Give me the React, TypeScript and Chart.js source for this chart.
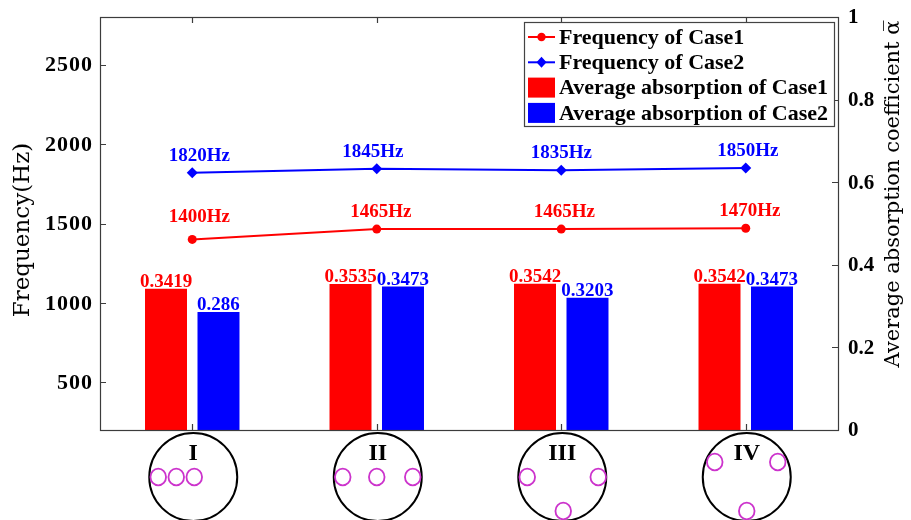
import React, { useEffect, useRef } from 'react';
import { Chart, registerables } from 'chart.js';

Chart.register(...registerables);

const categories = ['I', 'II', 'III', 'IV'];
const freqCase1 = [1400, 1465, 1465, 1470];
const freqCase2 = [1820, 1845, 1835, 1850];
const absorbCase1 = [0.3419, 0.3535, 0.3542, 0.3542];
const absorbCase2 = [0.286, 0.3473, 0.3203, 0.3473];
const leftTicks = [500, 1000, 1500, 2000, 2500];
const rightTicks = [0, 0.2, 0.4, 0.6, 0.8, 1];
const rightTickLabels = ['0', '0.2', '0.4', '0.6', '0.8', '1'];
const legendLabels = [
  'Frequency of Case1',
  'Frequency of Case2',
  'Average absorption of Case1',
  'Average absorption of Case2',
];
const leftTitle = 'Frequency(Hz)';
const rightTitle = 'Average absorption coefficient \u03B1\u0305';

// decoration: hole layouts of each configuration (offsets from the circle centre, px)
const holeLayouts: number[][][] = [
  [[-35, 0], [-17, 0], [1, 0]],
  [[-35, 0], [-1, 0], [35, 0]],
  [[-35, 0], [36, 0], [1, 34]],
  [[-32, -15], [31, -15], [0, 34]],
];
// small manual label nudges (style)
const lineLabelDx1 = [7, 4, 3, 4];
const lineLabelGap1 = [17, 12, 12, 12];
const lineLabelDx2 = [7, -4, 0, 2];

const RED = '#ff0000';
const BLUE = '#0000ff';
const SERIF = '"Liberation Serif", "Times New Roman", serif';

const decorPlugin = {
  id: 'decor',
  afterDatasetsDraw(chart: any) {
    const { ctx, chartArea: ca, scales } = chart;
    const xs = scales.x;
    const yL = scales.yL;
    const yR = scales.yR;
    ctx.save();

    // value labels for lines
    ctx.font = `bold 19px ${SERIF}`;
    ctx.textAlign = 'center';
    ctx.textBaseline = 'alphabetic';
    const m0 = chart.getDatasetMeta(0);
    const m1 = chart.getDatasetMeta(1);
    m0.data.forEach((el: any, i: number) => {
      ctx.fillStyle = RED;
      ctx.fillText(`${freqCase1[i]}Hz`, el.x + lineLabelDx1[i], el.y - lineLabelGap1[i]);
    });
    m1.data.forEach((el: any, i: number) => {
      ctx.fillStyle = BLUE;
      ctx.fillText(`${freqCase2[i]}Hz`, el.x + lineLabelDx2[i], el.y - 12);
    });
    // value labels for bars
    const m2 = chart.getDatasetMeta(2);
    const m3 = chart.getDatasetMeta(3);
    m2.data.forEach((el: any, i: number) => {
      ctx.fillStyle = RED;
      ctx.fillText(String(absorbCase1[i]), el.x, el.y - 2);
    });
    m3.data.forEach((el: any, i: number) => {
      ctx.fillStyle = BLUE;
      ctx.fillText(String(absorbCase2[i]), el.x, el.y - 2);
    });

    // frame
    ctx.strokeStyle = '#3c3c3c';
    ctx.lineWidth = 1.2;
    ctx.strokeRect(ca.left + 0.5, ca.top + 0.5, ca.right - ca.left, ca.bottom - ca.top);

    // ticks
    ctx.beginPath();
    leftTicks.forEach((v) => {
      const y = Math.round(yL.getPixelForValue(v)) + 0.5;
      ctx.moveTo(ca.left, y);
      ctx.lineTo(ca.left + 6, y);
    });
    rightTicks.forEach((v) => {
      const y = Math.round(yR.getPixelForValue(v)) + 0.5;
      ctx.moveTo(ca.right, y);
      ctx.lineTo(ca.right - 6, y);
    });
    categories.forEach((_c, i) => {
      const x = Math.round(xs.getPixelForValue(i)) + 0.5;
      ctx.moveTo(x, ca.bottom);
      ctx.lineTo(x, ca.bottom - 6);
      ctx.moveTo(x, ca.top);
      ctx.lineTo(x, ca.top + 6);
    });
    ctx.stroke();

    // tick labels
    ctx.fillStyle = '#000';
    ctx.font = `bold 22px ${SERIF}`;
    ctx.textBaseline = 'middle';
    ctx.textAlign = 'right';
    (ctx as any).letterSpacing = '1px';
    leftTicks.forEach((v) => {
      ctx.fillText(String(v), ca.left - 7, yL.getPixelForValue(v) + 1);
    });
    (ctx as any).letterSpacing = '0px';
    ctx.font = `bold 21px ${SERIF}`;
    ctx.textAlign = 'left';
    rightTicks.forEach((v, i) => {
      ctx.fillText(rightTickLabels[i], ca.right + 10, yR.getPixelForValue(v) + 1);
    });

    // axis titles
    ctx.font = `23px "DejaVu Serif", serif`;
    ctx.textAlign = 'center';
    ctx.textBaseline = 'middle';
    ctx.save();
    ctx.translate(23, 230);
    ctx.rotate(-Math.PI / 2);
    ctx.fillText(leftTitle, 0, 0);
    ctx.restore();
    ctx.font = `21px "DejaVu Serif", serif`;
    ctx.save();
    ctx.translate(894, 194);
    ctx.rotate(-Math.PI / 2);
    ctx.fillText(rightTitle, 0, 0);
    ctx.restore();

    // configuration sketches below the axis
    categories.forEach((c, i) => {
      const cx = xs.getPixelForValue(i) + 1;
      const cy = ca.bottom + 47;
      ctx.strokeStyle = '#000';
      ctx.lineWidth = 2;
      ctx.beginPath();
      ctx.arc(cx, cy, 44, 0, Math.PI * 2);
      ctx.stroke();
      ctx.fillStyle = '#000';
      ctx.font = `bold 24px ${SERIF}`;
      ctx.textAlign = 'center';
      ctx.textBaseline = 'middle';
      ctx.fillText(c, cx, ca.bottom + 24);
      ctx.strokeStyle = '#cc33cc';
      ctx.lineWidth = 1.8;
      holeLayouts[i].forEach(([dx, dy]) => {
        ctx.beginPath();
        ctx.ellipse(cx + dx, cy + dy, 7.8, 8.3, 0, 0, Math.PI * 2);
        ctx.stroke();
      });
    });

    // legend
    const w = 310;
    const h = 104;
    const x0 = ca.right - 4 - w;
    const y0 = ca.top + 5;
    ctx.fillStyle = '#fff';
    ctx.fillRect(x0, y0, w, h);
    ctx.strokeStyle = '#444';
    ctx.lineWidth = 1.2;
    ctx.strokeRect(x0 + 0.5, y0 + 0.5, w, h);
    const colors = [RED, BLUE, RED, BLUE];
    legendLabels.forEach((lab, i) => {
      const y = y0 + 15 + i * 25.3;
      const sx = x0 + 4;
      const sw = 27;
      ctx.fillStyle = colors[i];
      ctx.strokeStyle = colors[i];
      if (i < 2) {
        ctx.lineWidth = 2;
        ctx.beginPath();
        ctx.moveTo(sx, y);
        ctx.lineTo(sx + sw, y);
        ctx.stroke();
        const mx = sx + sw / 2;
        ctx.beginPath();
        if (i === 0) {
          ctx.arc(mx, y, 4.2, 0, Math.PI * 2);
        } else {
          ctx.moveTo(mx, y - 5.5);
          ctx.lineTo(mx + 5, y);
          ctx.lineTo(mx, y + 5.5);
          ctx.lineTo(mx - 5, y);
          ctx.closePath();
        }
        ctx.fill();
      } else {
        ctx.fillRect(sx, y - 10, sw, 20);
      }
      ctx.fillStyle = '#000';
      ctx.font = `bold 22px ${SERIF}`;
      ctx.textAlign = 'left';
      ctx.textBaseline = 'middle';
      ctx.fillText(lab, sx + sw + 4, y + 1);
    });

    ctx.restore();
  },
};

export default function App() {
  const ref = useRef<HTMLCanvasElement | null>(null);

  useEffect(() => {
    if (!ref.current) return;
    const chart = new Chart(ref.current, {
      type: 'bar',
      data: {
        labels: categories,
        datasets: [
          {
            type: 'line',
            label: legendLabels[0],
            data: freqCase1,
            yAxisID: 'yL',
            borderColor: RED,
            backgroundColor: RED,
            borderWidth: 2,
            pointStyle: 'circle',
            pointRadius: 4.5,
            pointBorderWidth: 0,
            order: 0,
          },
          {
            type: 'line',
            label: legendLabels[1],
            data: freqCase2,
            yAxisID: 'yL',
            borderColor: BLUE,
            backgroundColor: BLUE,
            borderWidth: 2,
            pointStyle: 'rectRot',
            pointRadius: 5.5,
            pointBorderWidth: 0,
            order: 0,
          },
          {
            type: 'bar',
            label: legendLabels[2],
            data: absorbCase1,
            yAxisID: 'yR',
            backgroundColor: RED,
            borderWidth: 0,
            categoryPercentage: 0.569,
            barPercentage: 0.8,
            order: 1,
          },
          {
            type: 'bar',
            label: legendLabels[3],
            data: absorbCase2,
            yAxisID: 'yR',
            backgroundColor: BLUE,
            borderWidth: 0,
            categoryPercentage: 0.569,
            barPercentage: 0.8,
            order: 1,
          },
        ] as any,
      },
      options: {
        animation: false,
        responsive: true,
        maintainAspectRatio: false,
        layout: { padding: { left: 100, right: 73, top: 17, bottom: 90 } },
        plugins: {
          legend: { display: false },
          tooltip: { enabled: false },
        },
        scales: {
          x: { type: 'category', display: false, offset: true },
          yL: { type: 'linear', position: 'left', display: false, min: 200, max: 2800 },
          yR: { type: 'linear', position: 'right', display: false, min: 0, max: 1 },
        },
      } as any,
      plugins: [decorPlugin],
    });
    return () => chart.destroy();
  }, []);

  return (
    <div style={{ position: 'absolute', left: 0, top: 0, width: 911, height: 520, background: '#fff' }}>
      <canvas ref={ref} />
    </div>
  );
}
